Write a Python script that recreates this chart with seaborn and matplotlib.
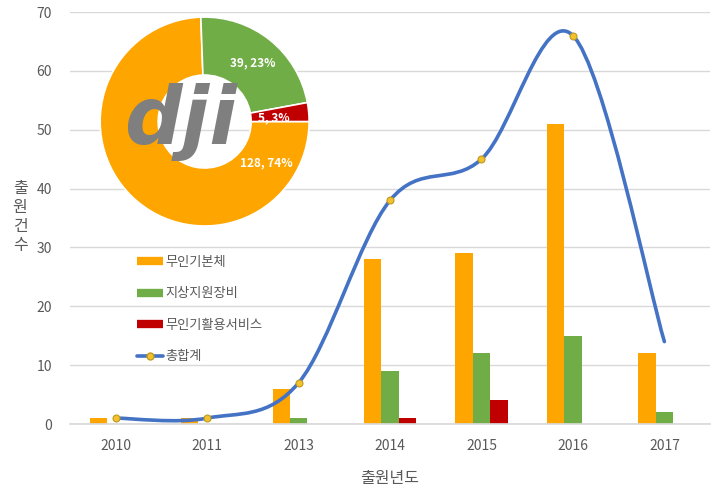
import numpy as np
import pandas as pd
import matplotlib
matplotlib.use('Agg')
import matplotlib.pyplot as plt
from matplotlib.path import Path
from matplotlib.patches import PathPatch
from matplotlib.lines import Line2D
import seaborn as sns

# data
years = ['2010', '2011', '2013', '2014', '2015', '2016', '2017']
series_names = ['무인기본체', '지상지원장비', '무인기활용서비스']
body = [1, 1, 6, 28, 29, 51, 12]
ground = [0, 0, 1, 9, 12, 15, 2]
service = [0, 0, 0, 1, 4, 0, 0]
total = [1, 1, 7, 38, 45, 66, 14]
total_name = '총합계'

pie_values = [128, 39, 5]
pie_labels = ['128, 74%', '39, 23%', '5, 3%']

colors = ['#FFA500', '#70AD47', '#C00000']
line_color = '#4472C4'
text_color = '#595959'

sns.set_theme(style='white')
plt.rcParams['font.family'] = ['Noto Sans CJK KR', 'DejaVu Sans']

df = pd.DataFrame({
    'year': years * 3,
    'series': [series_names[0]] * 7 + [series_names[1]] * 7 + [series_names[2]] * 7,
    'value': body + ground + service,
})

fig = plt.figure(figsize=(7.18, 4.94), dpi=100)
ax = fig.add_axes([0.0975, 0.1417, 0.8915, 0.834])

sns.barplot(data=df, x='year', y='value', hue='series', hue_order=series_names,
            order=years, palette=colors, width=0.57, gap=0, legend=False,
            saturation=1, linewidth=0, edgecolor='none', ax=ax, zorder=2)

# smoothed total line (bezier through the points, excel style)
xs = np.arange(len(total), dtype=float)
ys = np.array(total, dtype=float)
verts = [(xs[0], ys[0])]
codes = [Path.MOVETO]
n = len(xs)
for i in range(n - 1):
    p_prev = i - 1 if i > 0 else 0
    p_next = i + 2 if i + 2 < n else n - 1
    c1 = (xs[i] + (xs[i + 1] - xs[p_prev]) / 6, ys[i] + (ys[i + 1] - ys[p_prev]) / 6)
    c2 = (xs[i + 1] - (xs[p_next] - xs[i]) / 6, ys[i + 1] - (ys[p_next] - ys[i]) / 6)
    verts += [c1, c2, (xs[i + 1], ys[i + 1])]
    codes += [Path.CURVE4, Path.CURVE4, Path.CURVE4]
ax.add_patch(PathPatch(Path(verts, codes), fill=False, edgecolor=line_color,
                       lw=2.6, zorder=3, capstyle='round'))
ax.plot(xs[:-1], ys[:-1], ls='none', marker='o', ms=5, mfc='#F2C12E',
        mec='#BF9A1F', mew=0.8, zorder=4)

ax.set_ylim(0, 70)
ax.set_xlim(-0.5, 6.5)
ax.set_yticks(range(0, 71, 10))
ax.yaxis.grid(True, color='#D9D9D9', lw=1)
ax.set_axisbelow(True)
for s in ['top', 'right', 'left']:
    ax.spines[s].set_visible(False)
ax.spines['bottom'].set_color('#D9D9D9')
ax.tick_params(axis='both', length=0, labelsize=10, colors=text_color)
ax.tick_params(axis='x', pad=11)
ax.tick_params(axis='y', pad=13)
ax.set_xlabel('출원년도', fontsize=11.5, color=text_color, labelpad=12)
ax.set_ylabel('')
fig.text(0.028, 0.561, '\n'.join('출원건수'), fontsize=11.5, color=text_color,
         ha='center', va='center', linespacing=1.15)

# legend
handles = [Line2D([], [], color=c, lw=6, solid_capstyle='butt') for c in colors]
handles.append(Line2D([], [], color=line_color, lw=2.6, marker='o', ms=5,
                      mfc='#F2C12E', mec='#BF9A1F'))
leg = fig.legend(handles, series_names + [total_name], loc='upper left',
                 bbox_to_anchor=(0.174, 0.506), frameon=False, fontsize=9.5,
                 handlelength=2.0, labelspacing=1.4, handletextpad=0.2)
for t in leg.get_texts():
    t.set_color(text_color)

# donut inset
pax = fig.add_axes([0.1395, 0.5425, 0.291, 0.423])
wedges, _ = pax.pie(pie_values, colors=colors, startangle=0, counterclock=False,
                    radius=1, wedgeprops=dict(width=0.555, edgecolor='white', lw=1.2))
pax.set_xlim(-1, 1)
pax.set_ylim(-1, 1)
pax.set_aspect('equal')
pax.axis('off')
label_pos = [(0.59, -0.40), (0.46, 0.56), (0.66, 0.04)]
for (lx, ly), lab in zip(label_pos, pie_labels):
    pax.text(lx, ly, lab, color='white', fontsize=8.5, fontweight='bold',
             ha='center', va='center')

fig.text(0.252, 0.753, 'dji', fontsize=58, fontweight='bold', style='italic',
         family='DejaVu Sans', color='#7F7F7F', ha='center', va='center', zorder=5)

fig.savefig('out.png', dpi=100)
